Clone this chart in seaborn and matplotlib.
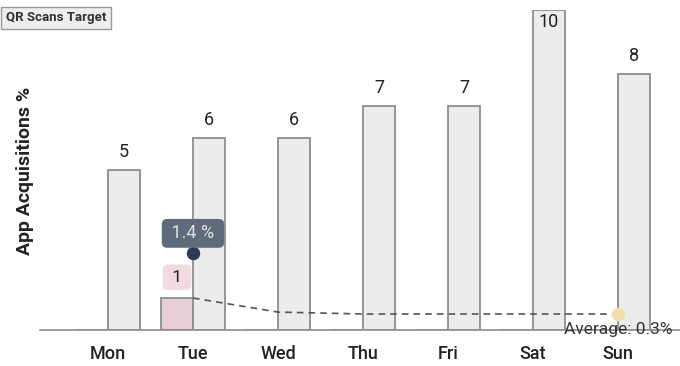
import matplotlib
matplotlib.use("Agg")
import matplotlib.pyplot as plt
import seaborn as sns
import pandas as pd
import numpy as np

days = ["Mon", "Tue", "Wed", "Thu", "Fri", "Sat", "Sun"]
acquisitions = [5, 6, 6, 7, 7, 10, 8]
qr_target = [0, 1, 0, 0, 0, 0, 0]
trend = [np.nan, 1.0, 0.56, 0.5, 0.5, 0.5, 0.5]
highlight_day = "Tue"
highlight_value = 2.4
highlight_label = "1.4 %"
average_label = "Average: 0.3%"
legend_label = "QR Scans Target"
ylabel = "App Acquisitions %"

sns.set_theme(style="white")
plt.rcParams["font.family"] = ["Roboto", "DejaVu Sans"]

df = pd.DataFrame({
    "day": days * 2,
    "value": qr_target + acquisitions,
    "series": ["target"] * len(days) + ["acq"] * len(days),
})

fig = plt.figure(figsize=(6.8, 3.66), dpi=100)
ax = fig.add_axes([40 / 680, 36 / 366, 640 / 680, 320 / 366])

sns.barplot(data=df, x="day", y="value", hue="series", order=days,
            hue_order=["target", "acq"],
            palette={"target": "#ebcad8", "acq": "#ececec"},
            width=0.753, edgecolor="#8e8e8e", linewidth=1.3,
            legend=False, ax=ax)

ax.set_xlim(-0.8, 6.73)
ax.set_ylim(0, 10)

# trend (dashed)
tdf = pd.DataFrame({"day": days, "trend": trend})
sns.lineplot(data=tdf, x="day", y="trend", ax=ax, color="#555555",
             linestyle=(0, (4, 3)), linewidth=1.2)

# value labels on gray bars
bw = 0.753 / 2
for i, v in enumerate(acquisitions):
    x = i + bw / 2
    if v >= 9.5:
        ax.text(x, v - 0.1, str(v), ha="center", va="top", fontsize=13,
                color="#222222")
    else:
        ax.text(x, v + 0.28, str(v), ha="center", va="bottom", fontsize=13,
                color="#222222")

# target label (pink box)
ti = days.index(highlight_day)
tx = ti - bw / 2
ax.text(tx, qr_target[ti] + 0.65, " " + str(qr_target[ti]) + " ",
        ha="center", va="center", fontsize=12.5, color="#222222",
        bbox=dict(boxstyle="round,pad=0.3,rounding_size=0.3",
                  fc="#f3d9e4", ec="none"))

# highlight marker + label
ax.scatter([ti], [highlight_value], s=75, color="#2f3a52", zorder=5)
ax.text(ti, highlight_value + 0.62, " " + highlight_label + " ",
        ha="center", va="center", fontsize=13, color="#e0e0e0", zorder=6,
        bbox=dict(boxstyle="round,pad=0.3,rounding_size=0.3",
                  fc="#5f6a7b", ec="none"))

# average marker + label
si = len(days) - 1
ax.scatter([si], [trend[si]], s=75, color="#efdfae", zorder=5)
ax.text(si, 0.03, average_label, ha="center", va="center",
        fontsize=12.5, color="#333333", zorder=6)

# axes styling
for s in ["top", "right", "left"]:
    ax.spines[s].set_visible(False)
ax.spines["bottom"].set_color("#8e8e8e")
ax.spines["bottom"].set_linewidth(1.2)
ax.set_yticks([])
ax.set_xlabel("")
ax.set_ylabel("")
ax.tick_params(axis="x", length=0, pad=11, labelsize=13, colors="#222222")
for lbl in ax.get_xticklabels():
    lbl.set_fontweight("medium")

fig.text(25 / 680, 1 - 171 / 366, ylabel, rotation=90, ha="center",
         va="center", fontsize=14, fontweight="bold", color="#222222")

fig.text(56 / 680, 1 - 18 / 366, legend_label, ha="center", va="center",
         fontsize=9.5, fontweight="bold", color="#333333",
         bbox=dict(boxstyle="square,pad=0.35", fc="#eeeeee", ec="#999999",
                   lw=1.0))

fig.savefig("out.png", dpi=100)
